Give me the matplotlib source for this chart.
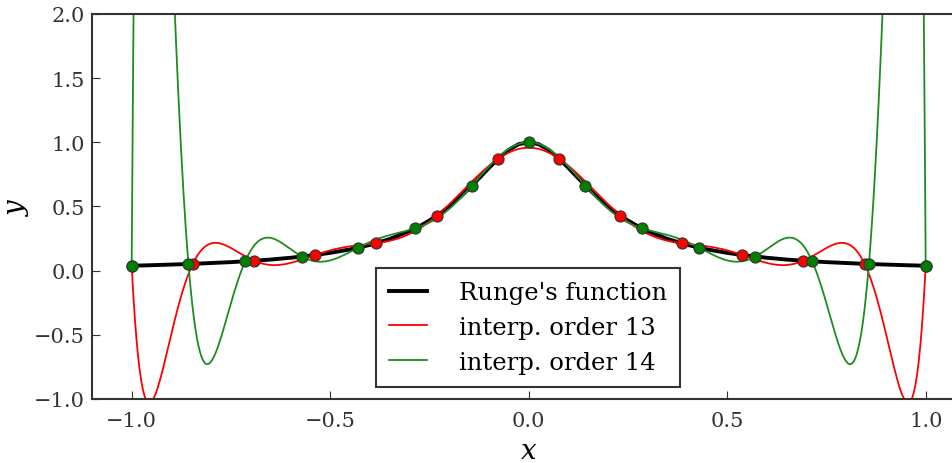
import numpy as np
import matplotlib
matplotlib.use('Agg')
import matplotlib.pyplot as plt

# Runge's function, values
runge_x = [-1.0, -0.95, -0.9, -0.85, -0.8, -0.75, -0.7, -0.65, -0.6, -0.55, -0.5,
           -0.45, -0.4, -0.35, -0.3, -0.275, -0.25, -0.225, -0.2, -0.175, -0.15,
           -0.125, -0.1, -0.075, -0.05, -0.025, 0.0, 0.025, 0.05, 0.075, 0.1,
           0.125, 0.15, 0.175, 0.2, 0.225, 0.25, 0.275, 0.3, 0.35, 0.4, 0.45,
           0.5, 0.55, 0.6, 0.65, 0.7, 0.75, 0.8, 0.85, 0.9, 0.95, 1.0]
runge_y = [0.038, 0.042, 0.047, 0.052, 0.059, 0.066, 0.075, 0.086, 0.100, 0.117, 0.138,
           0.165, 0.200, 0.246, 0.308, 0.346, 0.390, 0.441, 0.500, 0.566, 0.640,
           0.719, 0.800, 0.877, 0.941, 0.985, 1.000, 0.985, 0.941, 0.877, 0.800,
           0.719, 0.640, 0.566, 0.500, 0.441, 0.390, 0.346, 0.308, 0.246, 0.200, 0.165,
           0.138, 0.117, 0.100, 0.086, 0.075, 0.066, 0.059, 0.052, 0.047, 0.042, 0.038]

# sample points (red: 14 nodes, green: 15 nodes)
x13 = [-1.0, -0.846, -0.692, -0.538, -0.385, -0.231, -0.077,
       0.077, 0.231, 0.385, 0.538, 0.692, 0.846, 1.0]
y13 = [0.0385, 0.0529, 0.0770, 0.1214, 0.2129, 0.4290, 0.8711,
       0.8711, 0.4290, 0.2129, 0.1214, 0.0770, 0.0529, 0.0385]
x14 = [-1.0, -0.857, -0.714, -0.571, -0.429, -0.286, -0.143, 0.0,
       0.143, 0.286, 0.429, 0.571, 0.714, 0.857, 1.0]
y14 = [0.0385, 0.0516, 0.0727, 0.1092, 0.1789, 0.3288, 0.6622, 1.0,
       0.6622, 0.3288, 0.1789, 0.1092, 0.0727, 0.0516, 0.0385]

# interpolating polynomials through the sample points
p13 = np.polynomial.Polynomial.fit(x13, y13, len(x13) - 1)
p14 = np.polynomial.Polynomial.fit(x14, y14, len(x14) - 1)
xx = np.linspace(-1, 1, 1000)

plt.rcParams['font.family'] = 'DejaVu Serif'
plt.rcParams['mathtext.fontset'] = 'dejavuserif'

fig = plt.figure(figsize=(9.53, 4.64), dpi=100)
ax = fig.add_axes([0.0965, 0.138, 0.9165, 0.830])

ax.plot(runge_x, runge_y, 'k', lw=2.8, label="Runge's function")
ax.plot(xx, p13(xx), color='red', lw=1.3, label='interp. order 13')
ax.plot(xx, p14(xx), color='#1f8c1f', lw=1.3, label='interp. order 14')
ax.plot(x13, y13, 'o', color='red', mec='#333333', ms=8, mew=0.8)
ax.plot(x14, y14, 'o', color='green', mec='#333333', ms=8, mew=0.8)

ax.set_xlim(-1.1, 1.1)
ax.set_ylim(-1, 2)
ax.set_xticks([-1.0, -0.5, 0.0, 0.5, 1.0])
ax.set_yticks([-1.0, -0.5, 0.0, 0.5, 1.0, 1.5, 2.0])
ax.tick_params(axis='x', direction='in', labelsize=15, pad=9, length=6, colors='#333333')
ax.tick_params(axis='y', direction='in', labelsize=15, pad=5, length=6, colors='#333333')
ax.set_xlabel('$x$', fontsize=20)
ax.set_ylabel('$y$', fontsize=20)
ax.xaxis.set_label_coords(0.5, -0.135)
ax.xaxis.label.set_va('center')
ax.yaxis.set_label_coords(-0.085, 0.5)
ax.yaxis.label.set_va('center')
for s in ax.spines.values():
    s.set_color('#333333')
    s.set_linewidth(1.5)

leg = ax.legend(loc='lower left', bbox_to_anchor=(0.325, 0.031), fontsize=17.5,
                fancybox=False, framealpha=1, edgecolor='#333333', handlelength=1.56,
                handletextpad=1.3, borderpad=0.55, labelspacing=0.48, borderaxespad=0)
leg.get_frame().set_linewidth(1.5)

fig.savefig('out.png', dpi=100)
